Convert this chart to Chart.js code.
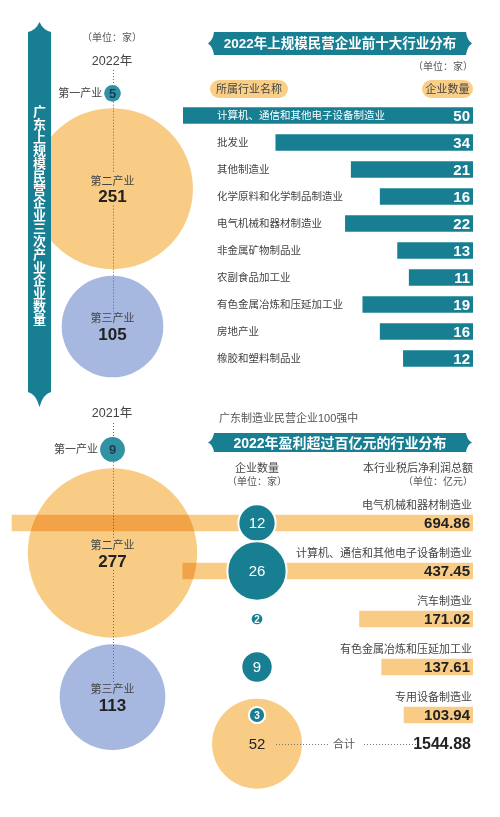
<!DOCTYPE html>
<html><head><meta charset="utf-8">
<script src="https://cdn.jsdelivr.net/npm/chart.js@4.4.1/dist/chart.umd.min.js"></script>
<style>
html,body{margin:0;padding:0;background:#fff;}
#wrap{position:relative;width:500px;height:817px;overflow:hidden;font-family:"Liberation Sans","Noto Sans CJK SC",sans-serif;color:#444;}
canvas{position:absolute;}
svg{position:absolute;left:0;top:0;}
.t{position:absolute;white-space:nowrap;line-height:1;}
.c{transform:translate(-50%,-50%);}
.r{transform:translate(-100%,-50%);}
.l{transform:translate(0,-50%);}
.unit{font-size:10px;color:#555;}
.ban{color:#fff;font-weight:bold;}
#vtitle{position:absolute;left:28px;width:23px;top:105px;font-size:13px;line-height:23px;writing-mode:vertical-rl;text-orientation:upright;color:#fff;font-weight:bold;text-align:center;font-family:"Noto Sans CJK SC",sans-serif;}
</style></head><body><div id="wrap">
<canvas id="cA" width="225" height="400" style="left:0;top:0"></canvas>
<canvas id="cB" width="290" height="270" style="left:183px;top:102px"></canvas>
<canvas id="cC" width="225" height="417" style="left:0;top:400px"></canvas>
<canvas id="cD" width="473" height="240" style="left:0;top:499px;mix-blend-mode:multiply"></canvas>
<canvas id="cE" width="114" height="340" style="left:200px;top:470px"></canvas>
<svg width="500" height="817" viewBox="0 0 500 817">
  <path d="M28,32 Q36,30 39.5,22 Q43,30 51,32 L51,392 Q43,394 39.5,407 Q36,394 28,392 Z" fill="#187f93"/>
  <path d="M214,32 L466,32 Q467,40 472,43.5 Q467,47 466,55 L214,55 Q213,47 208,43.5 Q213,40 214,32 Z" fill="#187f93"/>
  <path d="M214,433 L466,433 Q467,440 472,442.5 Q467,445 466,452 L214,452 Q213,445 208,442.5 Q213,440 214,433 Z" fill="#187f93"/>
  <rect x="210" y="80" width="78" height="18" rx="9" fill="#f9cf88"/>
  <rect x="422" y="80" width="51" height="18" rx="9" fill="#f9cf88"/>
  <line x1="276" y1="744.5" x2="330" y2="744.5" stroke="#777" stroke-width="1" stroke-dasharray="1,2"/>
  <line x1="364" y1="744.5" x2="419" y2="744.5" stroke="#777" stroke-width="1" stroke-dasharray="1,2"/>
</svg>
<div id="vtitle">广东上规模民营企业三次产业企业数量</div>
<div class="t c unit" style="left:112px;top:38px">（单位：家）</div>
<div class="t c" style="left:112px;top:61px;font-size:12.5px;color:#444">2022年</div>
<div class="t c ban" style="left:340px;top:44px;font-size:13.5px">2022年上规模民营企业前十大行业分布</div>
<div class="t r unit" style="left:473px;top:67px">（单位：家）</div>
<div class="t c" style="left:249px;top:89px;font-size:11px;color:#444">所属行业名称</div>
<div class="t c" style="left:447.5px;top:89px;font-size:11px;color:#444">企业数量</div>
<div class="t c" style="left:112px;top:413px;font-size:12.5px;color:#444">2021年</div>
<div class="t l" style="left:219px;top:418px;font-size:11px;color:#555">广东制造业民营企业100强中</div>
<div class="t c ban" style="left:340px;top:442.5px;font-size:14px">2022年盈利超过百亿元的行业分布</div>
<div class="t c" style="left:257px;top:468px;font-size:11px;color:#444">企业数量</div>
<div class="t c unit" style="left:257px;top:482px">（单位：家）</div>
<div class="t r" style="left:473px;top:468px;font-size:11px;color:#444">本行业税后净利润总额</div>
<div class="t r unit" style="left:473px;top:482px">（单位：亿元）</div>
<div class="t c" style="left:344px;top:744px;font-size:11px;color:#555">合计</div>
<div class="t r" id="totalProfitLbl" style="left:471px;top:744px;font-size:16px;font-weight:bold;color:#222"></div>
</div>
<script>
// ---------- data ----------
const sectorNames = ['第一产业', '第二产业', '第三产业'];
const sectors2022 = [5, 251, 105];
const sectors2021 = [9, 277, 113];
const topIndustries = ['计算机、通信和其他电子设备制造业', '批发业', '其他制造业', '化学原料和化学制品制造业', '电气机械和器材制造业', '非金属矿物制品业', '农副食品加工业', '有色金属冶炼和压延加工业', '房地产业', '橡胶和塑料制品业'];
const topCounts = [50, 34, 21, 16, 22, 13, 11, 19, 16, 12];
const profitIndustries = ['电气机械和器材制造业', '计算机、通信和其他电子设备制造业', '汽车制造业', '有色金属冶炼和压延加工业', '专用设备制造业'];
const profitAmounts = [694.86, 437.45, 171.02, 137.61, 103.94];
const profitCounts = [12, 26, 2, 9, 3];
const totalCount = 52;
const totalProfit = 1544.88;
const profitAxisMax = 713;

// ---------- styles ----------
const TEAL = '#187f93', BADGE = '#3192a4', ORANGE = '#f9cc86', BLUE = '#a6b8df';
const FONT = '"Liberation Sans","Noto Sans CJK SC",sans-serif';
const base = {responsive:false, animation:false, events:[], layout:{padding:0, autoPadding:false},
  plugins:{legend:{display:false}, tooltip:{enabled:false}}};

document.getElementById('totalProfitLbl').textContent = totalProfit.toFixed(2);

// ---------- sector bubbles ----------
const sectorRadius = v => 5.3 * Math.sqrt(v) - 3.5;
const sectorLabels = {
  id: 'sectorLabels',
  afterDatasetsDraw(chart, args, o) {
    const ctx = chart.ctx, pts = chart.getDatasetMeta(0).data, d = chart.data.datasets[0].data;
    const cx = Math.round(pts[0].x) + 0.5;
    ctx.save();
    ctx.strokeStyle = '#666'; ctx.lineWidth = 1; ctx.setLineDash([1, 2]);
    const segs = [[o.lineTop, pts[0].y - d[0].r], [pts[1].y + 17, pts[2].y - 15], [pts[0].y + d[0].r, pts[1].y - 15]];
    segs.forEach(([a, b]) => { ctx.beginPath(); ctx.moveTo(cx, a); ctx.lineTo(cx, b); ctx.stroke(); });
    ctx.setLineDash([]);
    ctx.textBaseline = 'middle';
    pts.forEach((p, i) => {
      if (i === 0) {
        ctx.fillStyle = '#1b3b50'; ctx.font = 'bold 13px ' + FONT; ctx.textAlign = 'center';
        ctx.fillText(String(d[i].v), p.x, p.y + 1);
        ctx.fillStyle = '#444'; ctx.font = '11px ' + FONT; ctx.textAlign = 'right';
        ctx.fillText(sectorNames[i], p.x - d[i].r - 2, p.y + 1);
      } else {
        ctx.textAlign = 'center';
        ctx.fillStyle = '#444'; ctx.font = '11px ' + FONT;
        ctx.fillText(sectorNames[i], p.x, p.y - 7);
        ctx.fillStyle = '#222'; ctx.font = 'bold 17px ' + FONT;
        ctx.fillText(String(d[i].v), p.x, p.y + 9);
      }
    });
    ctx.restore();
  }
};
function sectorChart(id, values, start, lineTop) {
  const c = document.getElementById(id);
  const GAP = 6.5; const ys = []; let y = 0;
  values.forEach((v, i) => {
    const r = sectorRadius(v);
    y = i === 0 ? start + r : y + sectorRadius(values[i - 1]) + GAP + r;
    ys.push(y);
  });
  new Chart(c, {
    type: 'bubble',
    data: {datasets: [{data: values.map((v, i) => ({x: 1, y: ys[i], r: sectorRadius(v), v})),
      backgroundColor: [BADGE, ORANGE, BLUE], borderWidth: 0, clip: false}]},
    options: Object.assign({}, base, {
      plugins: Object.assign({}, base.plugins, {sectorLabels: {lineTop}}),
      scales: {x: {type: 'linear', min: 0, max: 2, display: false},
               y: {type: 'linear', min: 0, max: c.height, reverse: true, display: false}}}),
    plugins: [sectorLabels]
  });
}
sectorChart('cA', sectors2022, 85, 70);
sectorChart('cC', sectors2021, 37, 23);

// ---------- top-10 bars ----------
const topBarLabels = {
  id: 'topBarLabels',
  afterDatasetsDraw(chart) {
    const ctx = chart.ctx, bars = chart.getDatasetMeta(0).data, a = chart.chartArea;
    const lx = a.left + 34;
    ctx.save(); ctx.textBaseline = 'middle';
    bars.forEach((b, i) => {
      ctx.font = '10.5px ' + FONT; ctx.textAlign = 'left';
      ctx.fillStyle = b.x < lx ? '#ffffff' : '#444';
      ctx.fillText(topIndustries[i], lx, b.y + 0.5);
      ctx.font = 'bold 15px ' + FONT; ctx.textAlign = 'right'; ctx.fillStyle = '#fff';
      ctx.fillText(String(topCounts[i]), a.right - 3, b.y + 1);
    });
    ctx.restore();
  }
};
new Chart(document.getElementById('cB'), {
  type: 'bar',
  data: {labels: topIndustries, datasets: [{data: topCounts, backgroundColor: TEAL, barThickness: 16, borderWidth: 0}]},
  options: Object.assign({}, base, {indexAxis: 'y',
    scales: {x: {min: 0, max: Math.max(...topCounts), reverse: true, display: false}, y: {display: false}}}),
  plugins: [topBarLabels]
});

// ---------- profit bars ----------
const profitLabels = {
  id: 'profitLabels',
  afterDatasetsDraw(chart) {
    const ctx = chart.ctx, bars = chart.getDatasetMeta(0).data, a = chart.chartArea;
    ctx.save(); ctx.textBaseline = 'middle'; ctx.textAlign = 'right';
    bars.forEach((b, i) => {
      ctx.font = '11px ' + FONT; ctx.fillStyle = '#444';
      ctx.fillText(profitIndustries[i], a.right - 1, b.y - 17);
      ctx.font = 'bold 15px ' + FONT; ctx.fillStyle = '#222';
      ctx.fillText(profitAmounts[i].toFixed(2), a.right - 3, b.y + 1);
    });
    ctx.restore();
  }
};
new Chart(document.getElementById('cD'), {
  type: 'bar',
  data: {labels: profitIndustries, datasets: [{data: profitAmounts, backgroundColor: ORANGE, barThickness: 16, borderWidth: 0}]},
  options: Object.assign({}, base, {indexAxis: 'y',
    scales: {x: {min: 0, max: profitAxisMax, reverse: true, display: false}, y: {display: false}}}),
  plugins: [profitLabels]
});

// ---------- count bubbles ----------
const countRadius = v => 4.2 * Math.pow(v, 0.6);
const BAND = 48, FIRST = 523 - 470, TOTAL_POS = 4.6;
const cE = document.getElementById('cE');
const yMin = -FIRST / BAND, yMax = yMin + cE.height / BAND;
const countLabels = {
  id: 'countLabels',
  afterDatasetsDraw(chart) {
    const ctx = chart.ctx;
    ctx.save(); ctx.textBaseline = 'middle'; ctx.textAlign = 'center';
    chart.getDatasetMeta(0).data.forEach((p, i) => {
      const r = countRadius(profitCounts[i]);
      ctx.fillStyle = '#fff';
      ctx.font = r >= 12 ? '15px ' + FONT : 'bold 10px ' + FONT;
      ctx.fillText(String(profitCounts[i]), p.x, p.y + 1);
    });
    const t = chart.getDatasetMeta(1).data[0];
    ctx.fillStyle = '#222'; ctx.font = '15px ' + FONT;
    ctx.fillText(String(totalCount), t.x, t.y + 1);
    ctx.restore();
  }
};
new Chart(cE, {
  type: 'bubble',
  data: {datasets: [
    {data: profitCounts.map((v, i) => ({x: 1, y: i, r: countRadius(v)})), backgroundColor: TEAL, borderColor: '#fff', borderWidth: 2, clip: false},
    {data: [{x: 1, y: TOTAL_POS, r: countRadius(totalCount)}], backgroundColor: ORANGE, borderWidth: 0, clip: false}
  ]},
  options: Object.assign({}, base, {
    scales: {x: {type: 'linear', min: 0, max: 2, display: false},
             y: {type: 'linear', min: yMin, max: yMax, reverse: true, display: false}}}),
  plugins: [countLabels]
});
</script>
</body></html>
